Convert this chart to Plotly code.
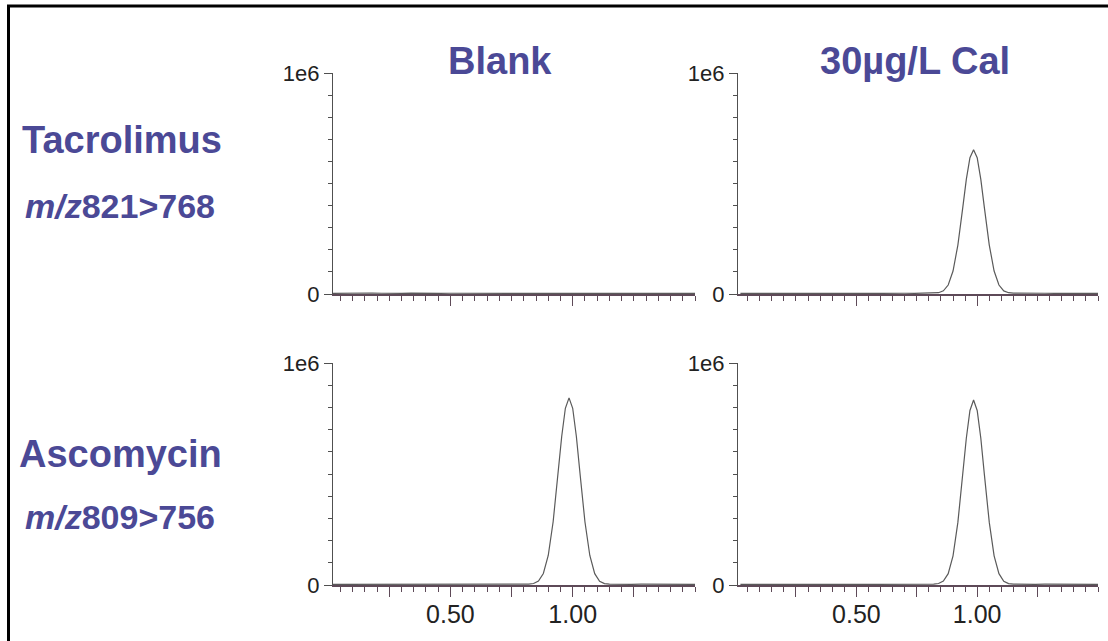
import plotly.graph_objects as go

# Retention time grid (min)
time = [0.02, 0.06, 0.10, 0.14, 0.18, 0.22, 0.26, 0.30, 0.34, 0.38,
        0.42, 0.46, 0.50, 0.54, 0.58, 0.62, 0.66, 0.70, 0.74, 0.78,
        0.80, 0.82, 0.84, 0.86, 0.88, 0.90, 0.92, 0.94, 0.955, 0.97,
        0.985, 1.00, 1.015, 1.03, 1.05, 1.07, 1.09, 1.11, 1.13, 1.15,
        1.17, 1.20, 1.24, 1.28, 1.32, 1.36, 1.40, 1.44, 1.48, 1.50]

# Intensities (counts)
tacro_blank = [3000, 4000, 3500, 3000, 4500, 3500, 2500, 3000, 4000, 3000,
               2500, 3000, 3500, 3000, 2500, 3500, 3000, 4000, 3500, 3000,
               3000, 3500, 3000, 2500, 3000, 3500, 3000, 3000, 3500, 3000,
               3000, 3500, 3000, 3000, 3500, 3000, 3500, 3000, 3000, 2500,
               3000, 3000, 3500, 3000, 2500, 3000, 3000, 3500, 3000, 3000]
tacro_cal = [3000, 3500, 3000, 3000, 3500, 3000, 2500, 3000, 3500, 3000,
             3000, 3000, 3500, 3000, 2500, 3500, 3000, 3500, 3000, 3000,
             3100, 3600, 5900, 14500, 40700, 103800, 221400, 388500, 518500, 616600,
             653000, 616600, 518500, 388500, 221400, 103800, 40700, 14000, 5800, 3600,
             3100, 3000, 3000, 3500, 3000, 3000, 3000, 3500, 3000, 3000]
asco_blank = [3000, 3000, 3500, 3000, 3000, 3500, 3000, 3000, 3000, 3500,
              3000, 3000, 3000, 3500, 3000, 3000, 3000, 3500, 3000, 3000,
              3000, 3700, 6700, 17900, 51700, 133000, 285000, 501000, 669000, 796000,
              843000, 796000, 669000, 501000, 285000, 133000, 51000, 17000, 6500, 3700,
              3100, 3000, 3000, 3500, 3000, 3000, 3000, 3500, 3000, 3000]
asco_cal = [3000, 3500, 3000, 3000, 3000, 3500, 3000, 3000, 3500, 3000,
            3000, 3000, 3500, 3000, 3000, 3000, 3500, 3000, 3000, 3000,
            3000, 3700, 6600, 17700, 51100, 131500, 281900, 495000, 661000, 786000,
            833000, 786000, 661000, 495000, 281900, 131500, 51100, 17000, 6500, 3700,
            3000, 3000, 3000, 3500, 3000, 3000, 3000, 3500, 3000, 3000]

col_titles = ["Blank", "30µg/L Cal"]
row_titles = ["Tacrolimus", "Ascomycin"]
row_transitions = ["<i>m/z</i>821&gt;768", "<i>m/z</i>809&gt;756"]
x_tickvals = [0.25, 0.50, 0.75, 1.00, 1.25]
x_ticktext = ["", "0.50", "", "1.00", ""]
y_tickvals = [0, 1e6]
y_ticktext = ["0", "1e6"]

W, H = 1108, 641
col_dom = [[333 / W, 695 / W], [738 / W, 1098 / W]]
row_dom = [[1 - 294 / H, 1 - 73 / H], [1 - 585 / H, 1 - 363 / H]]
x_ranges = [[0.02, 1.5], [0.01, 1.5]]

panels = [(0, 0, tacro_blank), (0, 1, tacro_cal), (1, 0, asco_blank), (1, 1, asco_cal)]

fig = go.Figure()
layout = {}
TEXT_BLUE = "#4b4996"
XCOL = "#5e4a58"
YCOL = "#505050"
FONT = "Arial, Liberation Sans, sans-serif"

for i, (r, c, ys) in enumerate(panels):
    n = "" if i == 0 else str(i + 1)
    fig.add_trace(go.Scatter(x=time, y=ys, mode="lines",
                             line=dict(color="#5a5a5a", width=1.2),
                             xaxis="x" + n, yaxis="y" + n, showlegend=False,
                             hoverinfo="skip"))
    layout["xaxis" + n] = dict(
        domain=col_dom[c], range=x_ranges[c], anchor="y" + n,
        showline=True, linecolor=XCOL, linewidth=1.8,
        showgrid=False, zeroline=False, automargin=False,
        tickmode="array", tickvals=x_tickvals, ticktext=x_ticktext,
        ticks="outside", ticklen=10, tickwidth=1.2, tickcolor=XCOL,
        showticklabels=(r == 1), ticklabelstandoff=-4,
        tickfont=dict(family=FONT, size=25, color="#222222"),
        minor=dict(ticks="outside", dtick=0.05, tick0=0, ticklen=5,
                   tickwidth=1, tickcolor=XCOL, showgrid=False),
    )
    layout["yaxis" + n] = dict(
        domain=row_dom[r], range=[0, 1e6], anchor="x" + n,
        showline=True, linecolor=YCOL, linewidth=1.3,
        showgrid=False, zeroline=False, automargin=False,
        tickmode="array", tickvals=y_tickvals, ticktext=y_ticktext,
        ticks="outside", ticklen=8, tickwidth=1, tickcolor=YCOL,
        tickfont=dict(family=FONT, size=22, color="#222222"),
        minor=dict(ticks="outside", dtick=1e5, tick0=0, ticklen=4,
                   tickwidth=1, tickcolor=YCOL, showgrid=False),
    )

annotations = []
for c, (t, xc) in enumerate(zip(col_titles, [500, 915])):
    annotations.append(dict(text="<b>%s</b>" % t, x=xc / W, y=1 - 61 / H,
                            xref="paper", yref="paper", xanchor="center",
                            yanchor="middle", showarrow=False,
                            font=dict(family=FONT, size=38, color=TEXT_BLUE)))
for r, (name, yc, xl) in enumerate(zip(row_titles, [140, 454], [20, 17])):
    annotations.append(dict(text="<b>%s</b>" % name, x=xl / W, y=1 - yc / H,
                            xref="paper", yref="paper", xanchor="left",
                            yanchor="middle", showarrow=False,
                            font=dict(family=FONT, size=38, color=TEXT_BLUE)))
for r, (tr, yc) in enumerate(zip(row_transitions, [206, 517])):
    annotations.append(dict(text="<b>%s</b>" % tr, x=23 / W, y=1 - yc / H,
                            xref="paper", yref="paper", xanchor="left",
                            yanchor="middle", showarrow=False,
                            font=dict(family=FONT, size=34, color=TEXT_BLUE)))

frame = dict(type="rect", xref="paper", yref="paper",
             x0=8.5 / W, x1=1.05, y0=-0.05, y1=1 - 6 / H,
             line=dict(color="black", width=3), fillcolor="rgba(0,0,0,0)")

fig.update_layout(
    width=W, height=H, autosize=False,
    margin=dict(l=0, r=0, t=0, b=0, pad=0, autoexpand=False),
    paper_bgcolor="white", plot_bgcolor="white",
    annotations=annotations, shapes=[frame],
    **layout,
)

fig.write_html("out.html")
